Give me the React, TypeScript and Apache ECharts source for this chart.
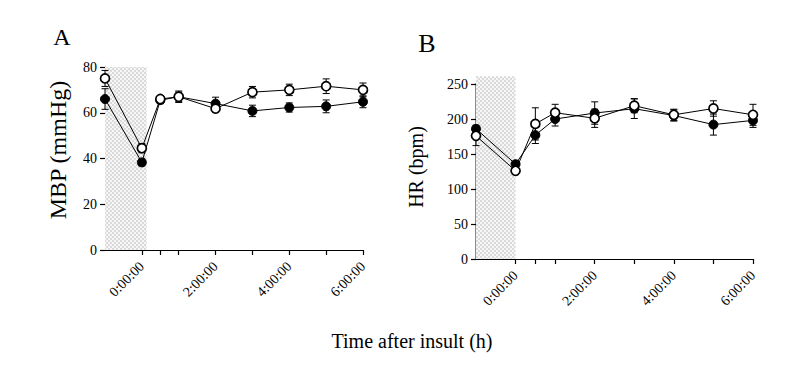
import React, { useEffect, useRef } from "react";
import * as echarts from "echarts";

// Time points (hours after insult)
const hours = [-1, 0, 0.5, 1, 2, 3, 4, 5, 6];

// Panel A: MBP (mmHg)
const mbpOpen = [75, 44.5, 66, 67, 61.8, 69, 70, 71.6, 70];
const mbpOpenErr = [3.5, 2, 1.5, 2, 1.5, 2.5, 2.5, 3.2, 3];
const mbpFilled = [66, 38.3, 65.5, 67, 64, 60.8, 62.3, 62.8, 64.8];
const mbpFilledErr = [4.5, 1.5, 1.5, 2.5, 2.8, 2.5, 2, 2.8, 2.6];

// Panel B: HR (bpm)
const hrOpen = [176, 126, 193, 209, 201, 219, 206, 215, 206];
const hrOpenErr = [14, 3, 23, 12, 13, 10, 8, 11, 15];
const hrFilled = [186, 135.5, 177, 200, 208.5, 214.7, 205, 192, 198];
const hrFilledErr = [5, 4, 12, 10, 16, 14, 8, 15, 10];

// Axis ticks / labels
const xTickHours = [0, 0.5, 1, 2, 3, 4, 5, 6];
const xLabelHours = [0, 2, 4, 6];
const mbpAxis = { min: 0, max: 80, interval: 20 };
const hrAxis = { min: 0, max: 250, interval: 50 };

// Shaded insult periods [x0, x1, y0, y1]
const shadeA = [-1, 0.13, 0, 80];
const shadeB = [-1, 0, 0, 261];

const FONT = "'Liberation Serif', 'Times New Roman', serif";

function makePattern() {
  const c = document.createElement("canvas");
  c.width = 4;
  c.height = 4;
  const ctx = c.getContext("2d")!;
  for (let y = 0; y < 4; y++) {
    for (let x = 0; x < 4; x++) {
      const on = (Math.floor(x / 2) + Math.floor(y / 2)) % 2 === 0;
      ctx.fillStyle = on ? "#dadada" : "#f6f6f6";
      ctx.fillRect(x, y, 1, 1);
    }
  }
  return { image: c, repeat: "repeat", imageWidth: 4, imageHeight: 4 };
}

export default function App() {
  const ref = useRef<HTMLDivElement>(null);
  useEffect(() => {
    if (!ref.current) return;
    const chart = echarts.init(ref.current, null, { renderer: "svg" });
    const pattern = makePattern();

    const pts = (vals: number[]) => hours.map((h, i) => [h, vals[i]]);
    const errPts = (vals: number[], errs: number[]) =>
      hours.map((h, i) => [h, vals[i], errs[i]]);

    const errRender = (params: any, api: any) => {
      const x = api.value(0);
      const y = api.value(1);
      const e = api.value(2);
      const top = api.coord([x, y + e]);
      const bot = api.coord([x, y - e]);
      const cap = 3.5;
      const st = { stroke: "#000", lineWidth: 1 };
      return {
        type: "group",
        children: [
          { type: "line", shape: { x1: top[0], y1: top[1], x2: bot[0], y2: bot[1] }, style: st },
          { type: "line", shape: { x1: top[0] - cap, y1: top[1], x2: top[0] + cap, y2: top[1] }, style: st },
          { type: "line", shape: { x1: bot[0] - cap, y1: bot[1], x2: bot[0] + cap, y2: bot[1] }, style: st },
        ],
      };
    };

    const shadeRender = (params: any, api: any) => {
      const p0 = api.coord([api.value(0), api.value(3)]);
      const p1 = api.coord([api.value(1), api.value(2)]);
      return {
        type: "rect",
        shape: { x: p0[0], y: p0[1], width: p1[0] - p0[0], height: p1[1] - p0[1] },
        style: { fill: pattern },
      };
    };

    const xAxisCfg = (gi: number) => ({
      type: "value",
      gridIndex: gi,
      min: -1,
      max: 6,
      splitLine: { show: false },
      axisLine: { show: true, onZero: false, lineStyle: { color: "#000", width: 1.2 } },
      axisTick: {
        show: true,
        length: 5,
        customValues: xTickHours,
        lineStyle: { color: "#000", width: 1.2 },
      },
      axisLabel: {
        customValues: xLabelHours,
        rotate: 45,
        margin: 14,
        color: "#000",
        fontFamily: FONT,
        fontSize: 14,
        formatter: (v: number) => `${v}:00:00`,
      },
    });

    const yAxisCfg = (gi: number, ax: { min: number; max: number; interval: number }) => ({
      type: "value",
      gridIndex: gi,
      min: ax.min,
      max: ax.max,
      interval: ax.interval,
      splitLine: { show: false },
      axisLine: { show: true, onZero: false, lineStyle: { color: "#8a8a8a", width: gi === 1 ? 2 : 1 } },
      axisTick: { show: true, length: 5, lineStyle: { color: "#000", width: 1.2 } },
      axisLabel: { margin: 8, color: "#000", fontFamily: FONT, fontSize: 14 },
    });

    const lineSeries = (gi: number, vals: number[], open: boolean) => ({
      type: "line",
      xAxisIndex: gi,
      yAxisIndex: gi,
      data: pts(vals),
      clip: false,
      symbol: "circle",
      symbolSize: 9,
      z: open ? 5 : 4,
      lineStyle: { color: "#000", width: 1 },
      itemStyle: open
        ? { color: "#fff", borderColor: "#000", borderWidth: 1.7 }
        : { color: "#000", borderColor: "#000", borderWidth: 1 },
    });

    const errSeries = (gi: number, vals: number[], errs: number[]) => ({
      type: "custom",
      xAxisIndex: gi,
      yAxisIndex: gi,
      data: errPts(vals, errs),
      renderItem: errRender,
      z: 3,
      clip: false,
    });

    const shadeSeries = (gi: number, s: number[]) => ({
      type: "custom",
      xAxisIndex: gi,
      yAxisIndex: gi,
      data: [s],
      encode: { x: [0, 1], y: [2, 3] },
      renderItem: shadeRender,
      z: 1,
      clip: false,
    });

    chart.setOption({
      animation: false,
      grid: [
        { left: 105, top: 67, width: 258, height: 183 },
        { left: 476, top: 84, width: 277, height: 175 },
      ],
      xAxis: [xAxisCfg(0), xAxisCfg(1)],
      yAxis: [yAxisCfg(0, mbpAxis), yAxisCfg(1, hrAxis)],
      graphic: [
        { type: "text", x: 62, y: 49, style: { text: "A", font: `24px ${FONT}`, fill: "#000", textAlign: "center", textVerticalAlign: "bottom" } },
        { type: "text", x: 427, y: 56, style: { text: "B", font: `26px ${FONT}`, fill: "#000", textAlign: "center", textVerticalAlign: "bottom" } },
        { type: "text", x: 58, y: 150, rotation: Math.PI / 2, style: { text: "MBP (mmHg)", font: `24px ${FONT}`, fill: "#000", textAlign: "center", textVerticalAlign: "middle" } },
        { type: "text", x: 416, y: 167, rotation: Math.PI / 2, style: { text: "HR (bpm)", font: `20px ${FONT}`, fill: "#000", textAlign: "center", textVerticalAlign: "middle" } },
        { type: "text", x: 412, y: 341, style: { text: "Time after insult (h)", font: `20px ${FONT}`, fill: "#000", textAlign: "center", textVerticalAlign: "middle" } },
      ],
      series: [
        shadeSeries(0, shadeA),
        errSeries(0, mbpFilled, mbpFilledErr),
        errSeries(0, mbpOpen, mbpOpenErr),
        lineSeries(0, mbpFilled, false),
        lineSeries(0, mbpOpen, true),
        shadeSeries(1, shadeB),
        errSeries(1, hrFilled, hrFilledErr),
        errSeries(1, hrOpen, hrOpenErr),
        lineSeries(1, hrFilled, false),
        lineSeries(1, hrOpen, true),
      ],
    });
    return () => chart.dispose();
  }, []);
  return (
    <div
      ref={ref}
      style={{ position: "absolute", left: 0, top: 0, width: 800, height: 369, background: "#fff" }}
    />
  );
}
